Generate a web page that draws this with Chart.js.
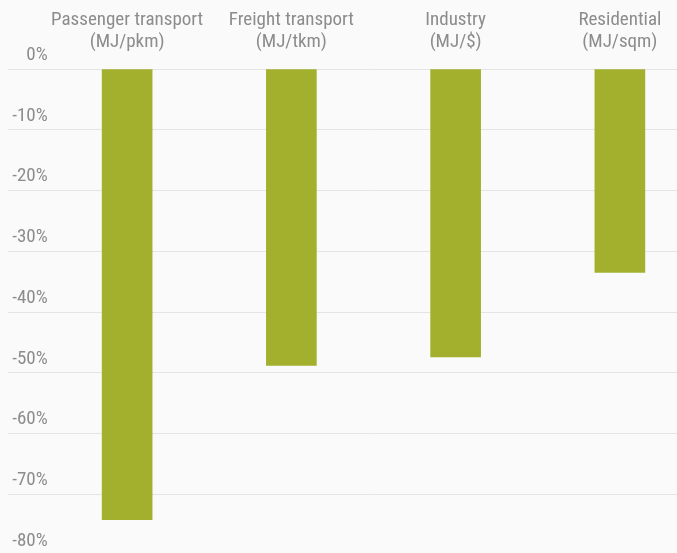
<!DOCTYPE html>
<html>
<head>
<meta charset="utf-8">
<script src="https://cdn.jsdelivr.net/npm/chart.js@4/dist/chart.umd.min.js"></script>
<style>
html,body{margin:0;padding:0;background:#fafafa;overflow:hidden;width:677px;height:553px;}
#wrap{position:absolute;left:0;top:0;width:702px;height:555px;}
</style>
</head>
<body>
<div id="wrap"><canvas id="c" width="702" height="555"></canvas></div>
<script>
const categories = [
  ["Passenger transport", "(MJ/pkm)"],
  ["Freight transport", "(MJ/tkm)"],
  ["Industry", "(MJ/$)"],
  ["Residential", "(MJ/sqm)"]
];
const changePct = [-74.2, -48.8, -47.4, -33.5];
const yTicks = [0, -10, -20, -30, -40, -50, -60, -70, -80];

const FONT = "'Liberation Sans Narrow', 'Roboto Condensed', 'DejaVu Sans Condensed', sans-serif";
const FSIZE = 19;
const TXT = '#8c8c8c';

// measure widest y label so right-aligned labels end just right of the plot's left edge
const mctx = document.createElement('canvas').getContext('2d');
mctx.font = FSIZE + 'px ' + FONT;
const widest = Math.max(...yTicks.map(v => mctx.measureText(v + '%').width));
const yPad = 2.7 - widest;

new Chart(document.getElementById('c'), {
  type: 'bar',
  data: {
    labels: categories,
    datasets: [{
      data: changePct,
      backgroundColor: '#a2b02e',
      barThickness: 50,
      borderWidth: 0
    }]
  },
  options: {
    responsive: false,
    animation: false,
    layout: { padding: 0 },
    plugins: { legend: { display: false }, tooltip: { enabled: false } },
    scales: {
      x: {
        position: 'top',
        grid: { display: false },
        border: { display: false },
        ticks: { color: TXT, font: { family: FONT, size: FSIZE, lineHeight: 1.15 }, padding: 8, maxRotation: 0, autoSkip: false },
        afterFit: s => { s.height = 69; }
      },
      y: {
        min: -80, max: 0,
        afterBuildTicks: s => { s.ticks = yTicks.map(v => ({ value: v })); },
        grid: { color: '#e4e4e4', lineWidth: 1, drawTicks: true, tickLength: 37, tickColor: '#e4e4e4' },
        border: { display: false },
        ticks: {
          color: TXT, font: { family: FONT, size: FSIZE },
          mirror: true, crossAlign: 'far',
          padding: yPad, labelOffset: -14,
          callback: v => v + '%'
        },
        afterFit: s => { s.width = 45; }
      }
    }
  }
});
</script>
</body>
</html>
